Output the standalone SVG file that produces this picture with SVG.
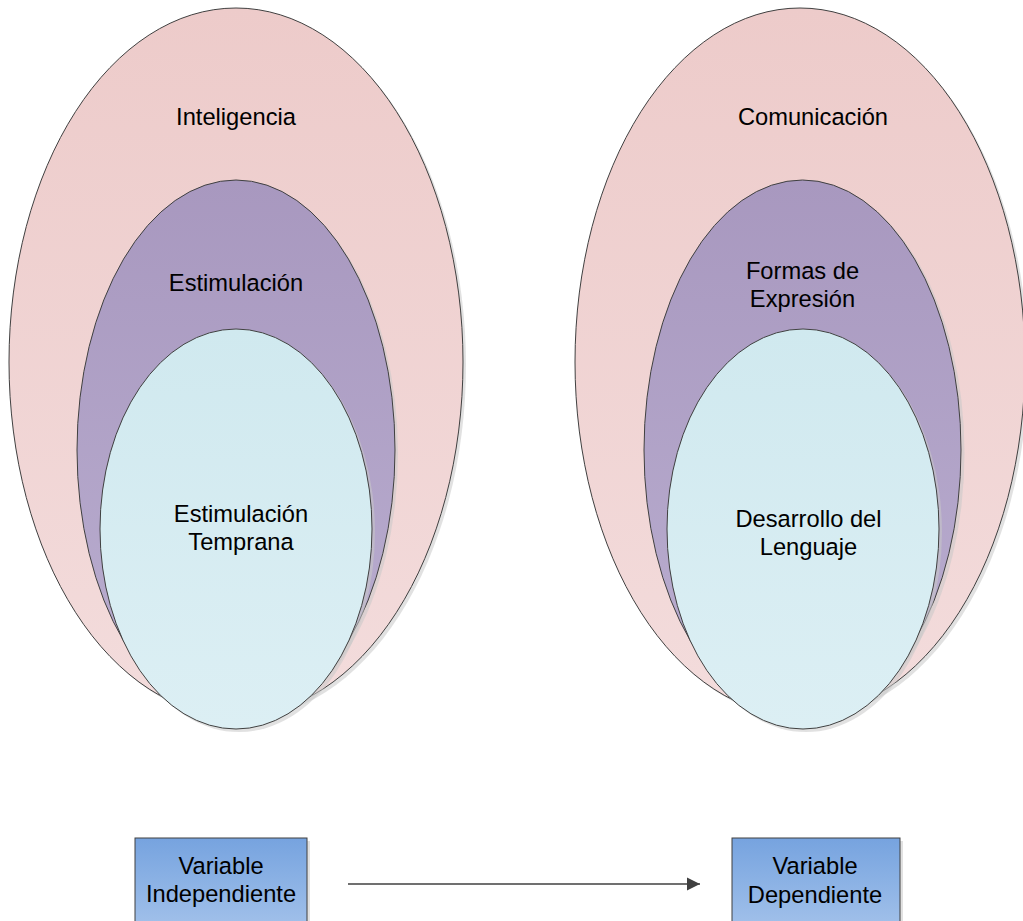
<svg xmlns="http://www.w3.org/2000/svg" width="1023" height="921" viewBox="0 0 1023 921">
<defs>
<linearGradient id="gPink" x1="0" y1="0" x2="0" y2="1">
<stop offset="0" stop-color="#EDCBCA"/>
<stop offset="1" stop-color="#F3DCDC"/>
</linearGradient>
<linearGradient id="gPurple" x1="0" y1="0" x2="0" y2="1">
<stop offset="0" stop-color="#A898BF"/>
<stop offset="1" stop-color="#BAAED0"/>
</linearGradient>
<linearGradient id="gBlue" x1="0" y1="0" x2="0" y2="1">
<stop offset="0" stop-color="#D0E9EF"/>
<stop offset="1" stop-color="#DCEFF4"/>
</linearGradient>
<linearGradient id="gBox" x1="0" y1="0" x2="0" y2="1">
<stop offset="0" stop-color="#76A3DF"/>
<stop offset="1" stop-color="#A2C1EA"/>
</linearGradient>
<marker id="arrow" markerUnits="userSpaceOnUse" markerWidth="14" markerHeight="14" refX="13" refY="7" orient="auto">
<path d="M0,0.5 L13,7 L0,13.5 Z" fill="#404040"/>
</marker>
</defs>
<style>
.shadow{fill:#C8C8C8;opacity:0.55}
.edge{stroke:#404040;stroke-width:1}
.lbl{font-family:"Liberation Sans",Arial,sans-serif;font-size:23.7px;fill:#000;text-anchor:middle}
</style>
<rect width="1023" height="921" fill="#FFFFFF"/>

<g id="node-inteligencia">
<ellipse class="shadow" cx="239" cy="365" rx="227" ry="354"/>
<ellipse class="edge" cx="236" cy="362" rx="227" ry="354" fill="url(#gPink)"/>
<text class="lbl" x="236" y="125">Inteligencia</text>
</g>
<g id="node-estimulacion">
<ellipse class="shadow" cx="239" cy="453" rx="159" ry="270"/>
<ellipse class="edge" cx="236" cy="450" rx="159" ry="270" fill="url(#gPurple)"/>
<text class="lbl" x="236" y="291">Estimulación</text>
</g>
<g id="node-estimulacion-temprana">
<ellipse class="shadow" cx="239" cy="532" rx="136" ry="200"/>
<ellipse class="edge" cx="236" cy="529" rx="136" ry="200" fill="url(#gBlue)"/>
<text class="lbl" x="241" y="522">Estimulación</text>
<text class="lbl" x="241" y="550">Temprana</text>
</g>

<g id="node-comunicacion">
<ellipse class="shadow" cx="803" cy="365" rx="225" ry="354"/>
<ellipse class="edge" cx="800" cy="362" rx="225" ry="354" fill="url(#gPink)"/>
<text class="lbl" x="813" y="125">Comunicación</text>
</g>
<g id="node-formas-expresion">
<ellipse class="shadow" cx="806" cy="453" rx="158.5" ry="270"/>
<ellipse class="edge" cx="802.5" cy="450" rx="158.5" ry="270" fill="url(#gPurple)"/>
<text class="lbl" x="802.5" y="279">Formas de</text>
<text class="lbl" x="802.5" y="307">Expresión</text>
</g>
<g id="node-desarrollo-lenguaje">
<ellipse class="shadow" cx="806" cy="532" rx="136" ry="200"/>
<ellipse class="edge" cx="803" cy="529" rx="136" ry="200" fill="url(#gBlue)"/>
<text class="lbl" x="808.5" y="527">Desarrollo del</text>
<text class="lbl" x="808.5" y="555">Lenguaje</text>
</g>

<g id="node-variable-independiente">
<rect class="shadow" x="138" y="841" width="172" height="90"/>
<rect class="edge" x="135" y="838" width="172" height="90" fill="url(#gBox)"/>
<text class="lbl" x="221" y="874">Variable</text>
<text class="lbl" x="221" y="902">Independiente</text>
</g>
<g id="node-variable-dependiente">
<rect class="shadow" x="735" y="841" width="168" height="90"/>
<rect class="edge" x="732" y="838" width="168" height="90" fill="url(#gBox)"/>
<text class="lbl" x="815" y="874">Variable</text>
<text class="lbl" x="815" y="903">Dependiente</text>
</g>

<g id="connectors">
<line x1="348" y1="884" x2="700" y2="884" stroke="#404040" stroke-width="1.6" marker-end="url(#arrow)"/>
</g>
</svg>
